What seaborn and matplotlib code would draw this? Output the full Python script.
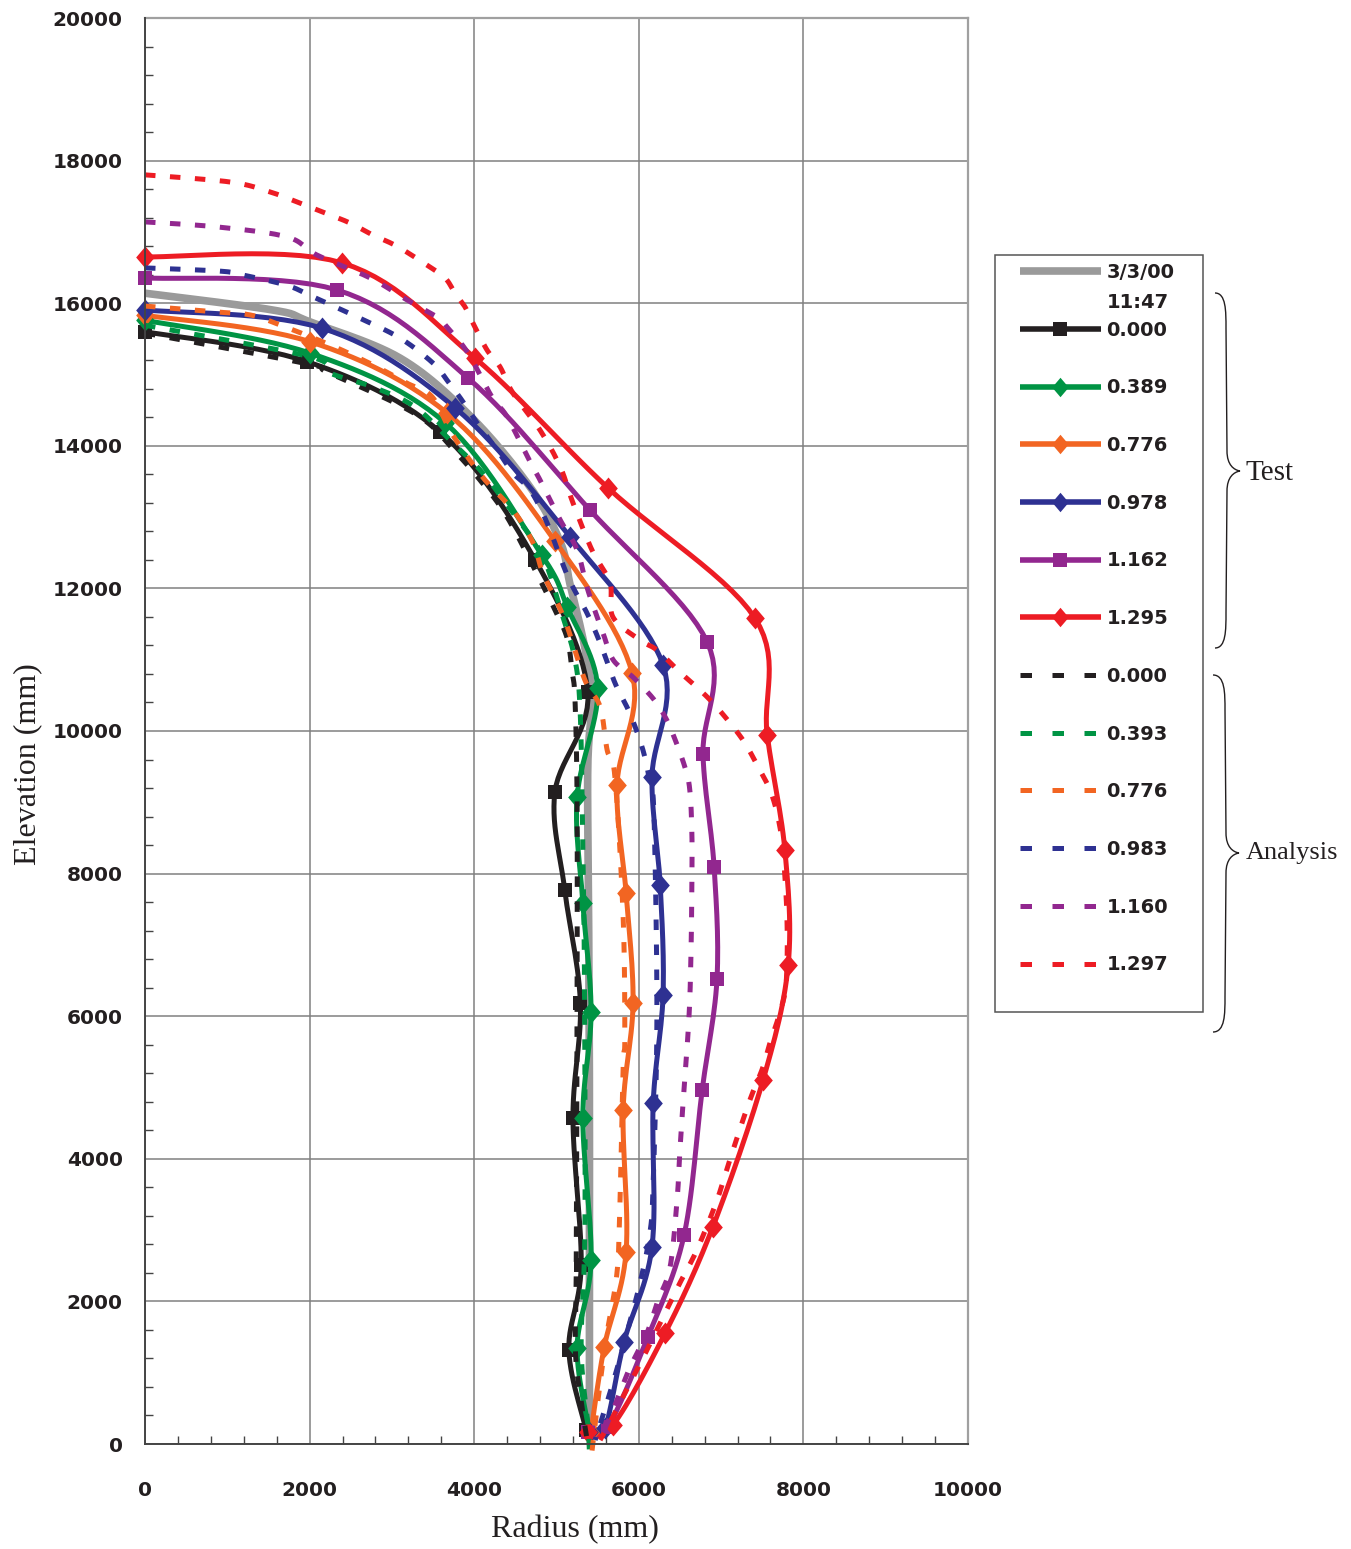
import numpy as np
import pandas as pd
import matplotlib
matplotlib.use("Agg")
import matplotlib.pyplot as plt
from matplotlib.lines import Line2D
from matplotlib.path import Path
from matplotlib.patches import PathPatch, Rectangle
from matplotlib.ticker import MultipleLocator
import seaborn as sns

W, H = 1351, 1549

# ---------------- data ----------------
x_ticks = [0, 2000, 4000, 6000, 8000, 10000]
y_ticks = [0, 2000, 4000, 6000, 8000, 10000, 12000, 14000, 16000, 18000, 20000]
x_label = "Radius (mm)"
y_label = "Elevation (mm)"

gray_label = "3/3/00"
gray_label2 = "11:47"
gray_r = [0, 1550, 2000, 3100, 3950, 4680, 5050, 5160, 5290, 5370, 5430, 5380, 5390, 5400, 5400, 5400]
gray_z = [16140, 15905, 15740, 15230, 14420, 13420, 12640, 12080, 11460, 11000, 10440, 9500, 7500, 5000, 2500, 50]

test_labels = ["0.000", "0.389", "0.776", "0.978", "1.162", "1.295"]
test0_r = [0, 1970, 3590, 4740, 5380, 4980, 5100, 5290, 5200, 5300, 5150, 5360]
test0_z = [15600, 15180, 14190, 12400, 10550, 9140, 7770, 6190, 4570, 2510, 1320, 200]
test1_r = [0, 2005, 3650, 4820, 5130, 5500, 5250, 5320, 5420, 5320, 5420, 5250, 5400]
test1_z = [15760, 15300, 14320, 12470, 11740, 10600, 9070, 7590, 6060, 4570, 2580, 1350, 170]
test2_r = [0, 2005, 3670, 4980, 5920, 5735, 5845, 5930, 5810, 5845, 5580, 5420]
test2_z = [15830, 15460, 14460, 12665, 10810, 9240, 7730, 6185, 4685, 2690, 1360, 180]
test3_r = [0, 2150, 3770, 5165, 6295, 6160, 6260, 6295, 6175, 6160, 5820, 5590, 5390]
test3_z = [15905, 15650, 14530, 12720, 10925, 9355, 7840, 6300, 4785, 2765, 1430, 225, 170]
test4_r = [0, 2335, 3925, 5405, 6830, 6780, 6915, 6950, 6770, 6550, 6110, 5625, 5385]
test4_z = [16355, 16185, 14950, 13100, 11250, 9675, 8095, 6520, 4965, 2930, 1500, 240, 170]
test5_r = [0, 2395, 4010, 5625, 7410, 7560, 7775, 7815, 7510, 6900, 6320, 5685, 5385]
test5_z = [16650, 16565, 15230, 13410, 11585, 9945, 8330, 6720, 5105, 3045, 1555, 265, 170]

analysis_labels = ["0.000", "0.393", "0.776", "0.983", "1.160", "1.297"]
ana0_r = [0, 1970, 2210, 3040, 3440, 3730, 4070, 4400, 4800, 4980, 5130, 5190, 5225, 5250, 5250, 5240, 5230, 5300, 5380]
ana0_z = [15580, 15150, 15035, 14600, 14320, 13970, 13520, 13000, 12120, 11700, 11300, 10830, 10435, 9000, 6200, 2500, 1300, 600, 0]
ana1_r = [0, 2000, 2250, 2770, 3280, 3740, 4095, 4470, 4825, 5050, 5225, 5290, 5320, 5340, 5345, 5300, 5380, 5400]
ana1_z = [15690, 15250, 15020, 14825, 14545, 14040, 13630, 13060, 12470, 11700, 11000, 10200, 8330, 6470, 3000, 1330, 300, -120]
ana2_r = [0, 830, 1280, 1640, 2250, 2770, 3180, 3490, 3740, 4110, 4470, 4715, 4835, 5100, 5345, 5530, 5615, 5710, 5810, 5830, 5810, 5770, 5735, 5615, 5530, 5430]
ana2_z = [15960, 15880, 15835, 15695, 15415, 15135, 14880, 14685, 14150, 13550, 13100, 12640, 12215, 11560, 10715, 10340, 9735, 9355, 7390, 5710, 5290, 3325, 2400, 1560, 855, -110]
ana3_r = [0, 910, 1190, 1725, 2040, 2610, 3100, 3500, 3670, 3850, 4035, 4280, 4470, 4680, 4885, 5140, 5370, 5530, 5710, 5890, 6050, 6135, 6185, 6220, 6175, 6135, 6015, 5855, 5685, 5470]
ana3_z = [16495, 16450, 16395, 16250, 16090, 15790, 15510, 15160, 14920, 14640, 14320, 13940, 13620, 13380, 12920, 12160, 11655, 11235, 10675, 10250, 9735, 9270, 8795, 5990, 3660, 2960, 2260, 1560, 855, 55]
ana4_r = [0, 875, 1725, 2090, 2735, 3185, 3550, 3670, 3925, 4215, 4400, 4680, 4800, 5045, 5250, 5380, 5565, 5690, 5930, 6160, 6295, 6405, 6560, 6620, 6645, 6645, 6635, 6610, 6540, 6500, 6465, 6380, 6235, 6100, 5895, 5735, 5530]
ana4_z = [17140, 17070, 16930, 16675, 16355, 16045, 15805, 15665, 15300, 14685, 14405, 13775, 13520, 12960, 12540, 11980, 11375, 10995, 10755, 10475, 10250, 9985, 9495, 9170, 8570, 7870, 6930, 5990, 4825, 4125, 3420, 2480, 2020, 1560, 1080, 615, 55]
ana5_r = [0, 1035, 1520, 1845, 2160, 2490, 2770, 3060, 3425, 3645, 3765, 3890, 3985, 4155, 4315, 4470, 4800, 5045, 5200, 5430, 5650, 5685, 6015, 6220, 6500, 6705, 6900, 7110, 7290, 7450, 7595, 7690, 7750, 7800, 7790, 7700, 7600, 7510, 7350, 7145, 6950, 6705, 6500, 6295, 6100, 5895, 5685, 5530]
ana5_z = [17800, 17700, 17560, 17420, 17280, 17125, 16955, 16800, 16535, 16355, 16145, 15945, 15720, 15345, 15105, 14740, 14220, 13705, 13200, 12540, 12075, 11600, 11275, 11135, 10825, 10615, 10395, 10110, 9830, 9495, 9170, 8795, 8330, 7390, 6465, 6000, 5650, 5290, 4825, 4125, 3420, 2720, 2260, 1780, 1320, 855, 380, 55]

colors = ["#231f20", "#009444", "#f26522", "#2e3192", "#92278f", "#ed1c24"]
gray_color = "#9a9a9a"
test_markers = ["s", "d", "d", "d", "s", "d"]

test_series = [(test0_r, test0_z), (test1_r, test1_z), (test2_r, test2_z),
               (test3_r, test3_z), (test4_r, test4_z), (test5_r, test5_z)]
ana_series = [(ana0_r, ana0_z), (ana1_r, ana1_z), (ana2_r, ana2_z),
              (ana3_r, ana3_z), (ana4_r, ana4_z), (ana5_r, ana5_z)]

# ---------------- helpers ----------------
SX, SY = 0.0823, 0.0713  # px per mm, so the smoothing works in screen space
DIAMOND = [(0, 1), (0.85, 0), (0, -1), (-0.85, 0), (0, 1)]


def smooth(r, z, n=14):
    """Excel-like smoothed line (Catmull-Rom) through the given points."""
    r = np.asarray(r, float)
    z = np.asarray(z, float)
    P = np.column_stack([r * SX, z * SY])
    if len(P) < 3:
        return r, z
    ext = np.vstack([P[0], P, P[-1]])
    t = np.linspace(0, 1, n, endpoint=False)[:, None]
    h00 = 2 * t**3 - 3 * t**2 + 1
    h10 = t**3 - 2 * t**2 + t
    h01 = -2 * t**3 + 3 * t**2
    h11 = t**3 - t**2
    segs = []
    for i in range(1, len(ext) - 2):
        p0, p1, p2, p3 = ext[i - 1], ext[i], ext[i + 1], ext[i + 2]
        m1 = (p2 - p0) / 2.0
        m2 = (p3 - p1) / 2.0
        segs.append(h00 * p1 + h10 * m1 + h01 * p2 + h11 * m2)
    segs.append(P[-1:])
    S = np.vstack(segs)
    return S[:, 0] / SX, S[:, 1] / SY


# ---------------- figure ----------------
sns.set_theme(style="white")
plt.rcParams["font.family"] = ["DejaVu Sans"]
TXT = "#231f20"

fig = plt.figure(figsize=(W / 100, H / 100), dpi=100)
ax = fig.add_axes([145 / W, 1 - 1444 / H, 823 / W, 1426 / H])

LW = 3.6
DASH = (2.1, 2.9)


def curve(r, z, color, lw, zo, dashes=None):
    xs, ys = smooth(r, z)
    df = pd.DataFrame({"r": xs, "z": ys})
    sns.lineplot(data=df, x="r", y="z", sort=False, estimator=None,
                 color=color, linewidth=lw, ax=ax, zorder=zo, clip_on=False)
    line = ax.lines[-1]
    line.set_solid_capstyle("butt")
    line.set_solid_joinstyle("round")
    if dashes is not None:
        line.set_dashes(dashes)
        line.set_dash_capstyle("butt")
    return line


# gray measured profile
curve(gray_r, gray_z, gray_color, 5.5, 2)

# test profiles with markers
for (r, z), c, m in zip(test_series, colors, test_markers):
    curve(r, z, c, LW, 3)
    if m == "s":
        sns.scatterplot(x=r, y=z, marker="s", s=110, color=c, edgecolor=c,
                        linewidth=0, ax=ax, zorder=4, clip_on=False, legend=False)
    else:
        sns.scatterplot(x=r, y=z, marker=DIAMOND, s=250, color=c, edgecolor=c,
                        linewidth=0, ax=ax, zorder=4, clip_on=False, legend=False)

# analysis profiles (dashed)
for (r, z), c in zip(ana_series, colors):
    curve(r, z, c, LW, 5, dashes=DASH)

# ---------------- axes styling ----------------
ax.set_xlim(0, 10000)
ax.set_ylim(0, 20000)
ax.set_xticks(x_ticks)
ax.set_yticks(y_ticks)
ax.set_xticklabels([str(v) for v in x_ticks], fontweight="bold", fontsize=14.5, color=TXT)
ax.set_yticklabels([str(v) for v in y_ticks], fontweight="bold", fontsize=14.5, color=TXT)
ax.xaxis.set_minor_locator(MultipleLocator(400))
ax.yaxis.set_minor_locator(MultipleLocator(400))
ax.tick_params(which="major", direction="out", length=8, width=1.2, color="#444444")
ax.tick_params(axis="x", which="major", pad=19)
ax.tick_params(axis="y", which="major", pad=8)
ax.tick_params(which="minor", direction="in", length=6, width=1.0, color="#444444",
               bottom=True, left=True)
ax.grid(True, which="major", color="#808080", linewidth=1.1)
ax.grid(False, which="minor")
ax.set_axisbelow(True)
for s in ["left", "bottom"]:
    ax.spines[s].set_color("#444444")
    ax.spines[s].set_linewidth(1.4)
    ax.spines[s].set_zorder(6)
for s in ["top", "right"]:
    ax.spines[s].set_color("#a0a0a0")
    ax.spines[s].set_linewidth(1.6)

ax.set_xlabel(x_label, fontfamily="Liberation Serif", fontsize=23, color=TXT)
ax.set_ylabel(y_label, fontfamily="Liberation Serif", fontsize=23, color=TXT)
ax.xaxis.label.set_va("center")
ax.yaxis.label.set_va("center")
ax.xaxis.set_label_coords(0.522, -0.0603)
ax.yaxis.set_label_coords(-0.1425, 0.477)

# ---------------- legend ----------------
handles = [Line2D([], [], color=gray_color, lw=5.5, solid_capstyle="butt")]
for c, m in zip(colors, test_markers):
    if m == "s":
        handles.append(Line2D([], [], color=c, lw=4, marker="s", markersize=10.5,
                              markeredgewidth=0, solid_capstyle="butt"))
    else:
        handles.append(Line2D([], [], color=c, lw=4, marker=DIAMOND, markersize=14,
                              markeredgewidth=0, solid_capstyle="butt"))
for c in colors:
    handles.append(Line2D([], [], color=c, lw=3.6, dashes=(2.3, 4.1),
                          dash_capstyle="butt"))
labels = [gray_label] + test_labels + analysis_labels

leg = fig.legend(handles, labels, loc="upper left",
                 bbox_to_anchor=(1020 / W, 1 - 263 / H),
                 frameon=False, prop=dict(family="DejaVu Sans", weight="bold", size=14),
                 handlelength=4.15, handletextpad=0.3, labelspacing=1.99,
                 borderpad=0, borderaxespad=0, numpoints=1)
for t in leg.get_texts():
    t.set_color(TXT)

fig.add_artist(Rectangle((995 / W, 1 - 1012 / H), 208 / W, 757 / H,
                         transform=fig.transFigure, fill=False,
                         edgecolor="#555555", linewidth=1.1))

fig.canvas.draw()
bb = leg.get_texts()[0].get_window_extent()
fig.text(bb.x0 / W, (bb.y0 - 30) / H, gray_label2, fontfamily="DejaVu Sans",
         fontweight="bold", fontsize=14, color=TXT, ha="left", va="bottom")


# ---------------- braces ----------------
def brace(x_end, x_stem, x_tip, y_top, y_mid, y_bot):
    pts = [(x_end, y_top),
           (x_stem, y_top), (x_stem, y_top + 18), (x_stem, y_top + 35),
           (x_stem + 1, y_mid - 20),
           (x_stem + 1, y_mid - 6), (x_tip - 6, y_mid - 1), (x_tip, y_mid),
           (x_tip - 6, y_mid + 1), (x_stem + 1, y_mid + 6), (x_stem + 1, y_mid + 20),
           (x_stem, y_bot - 35),
           (x_stem, y_bot - 18), (x_stem, y_bot), (x_end, y_bot)]
    codes = [Path.MOVETO,
             Path.CURVE4, Path.CURVE4, Path.CURVE4,
             Path.LINETO,
             Path.CURVE4, Path.CURVE4, Path.CURVE4,
             Path.CURVE4, Path.CURVE4, Path.CURVE4,
             Path.LINETO,
             Path.CURVE4, Path.CURVE4, Path.CURVE4]
    verts = [(x / W, 1 - y / H) for x, y in pts]
    fig.add_artist(PathPatch(Path(verts, codes), transform=fig.transFigure,
                             fill=False, edgecolor=TXT, linewidth=1.0))


brace(1215, 1226, 1240, 293, 471, 648)
brace(1213, 1225, 1239, 675, 853, 1032)
fig.text(1246 / W, 1 - 473 / H, "Test", fontfamily="Liberation Serif",
         fontsize=21, color=TXT, ha="left", va="center")
fig.text(1246 / W, 1 - 853 / H, "Analysis", fontfamily="Liberation Serif",
         fontsize=19, color=TXT, ha="left", va="center")

fig.savefig("out.png", dpi=100)
